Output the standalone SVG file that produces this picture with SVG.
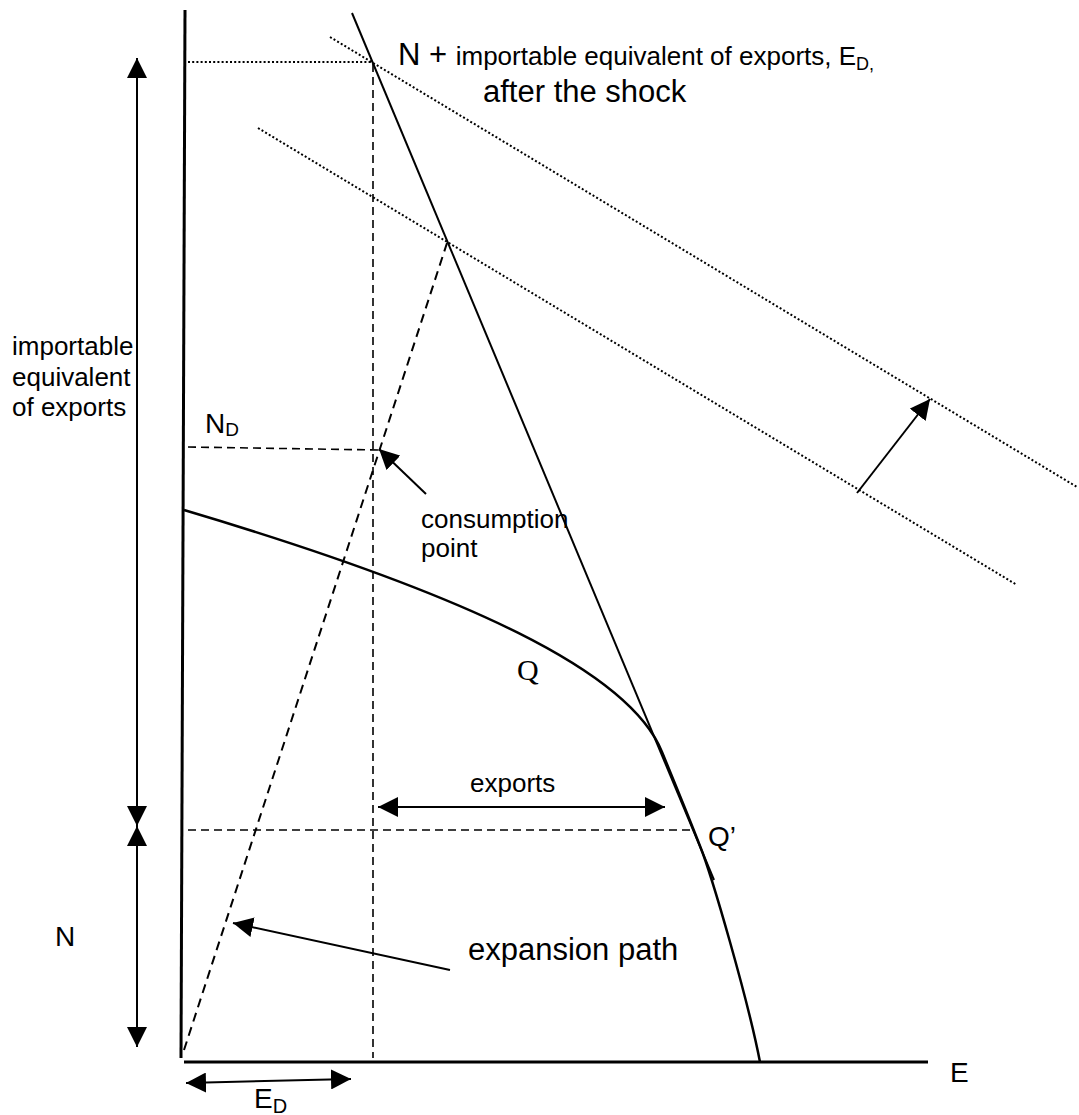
<svg xmlns="http://www.w3.org/2000/svg" width="1079" height="1115" viewBox="0 0 1079 1115">
<style>
  text { font-family: "Liberation Sans", Arial, sans-serif; fill: #000; }
  .ax { stroke: #000; stroke-width: 3; fill: none; }
  .solid { stroke: #000; stroke-width: 2; fill: none; }
  .curve { stroke: #000; stroke-width: 2.5; fill: none; }
  .dash { stroke: #000; stroke-width: 1.6; fill: none; stroke-dasharray: 8 5; }
  .dash2 { stroke: #000; stroke-width: 2; fill: none; stroke-dasharray: 9 6; }
  .dot { stroke: #000; stroke-width: 2; fill: none; stroke-dasharray: 2 2.2; }
  .arr { stroke: #000; stroke-width: 2; fill: none; }
</style>
<defs>
  <marker id="ah" viewBox="0 0 20 20" refX="20" refY="10" markerWidth="20" markerHeight="20" markerUnits="userSpaceOnUse" orient="auto-start-reverse">
    <path d="M0,0 L20,10 L0,20 z" fill="#000"/>
  </marker>
</defs>
<rect width="1079" height="1115" fill="#fff"/>

<g id="axes">
  <line class="ax" x1="185" y1="10" x2="181" y2="1058"/>
  <line class="ax" x1="184" y1="1062" x2="928" y2="1062"/>
</g>

<g id="guides">
  <line class="dot" x1="188" y1="62" x2="373" y2="62"/>
  <line class="dot" x1="330" y1="37" x2="1077" y2="487"/>
  <line class="dot" x1="258" y1="128" x2="1017" y2="585"/>
  <line class="dash" x1="373" y1="64" x2="373" y2="1058"/>
  <line class="dash" x1="188" y1="447" x2="378" y2="450"/>
  <line class="dash" x1="188" y1="830" x2="693" y2="830"/>
  <line class="dash2" x1="184" y1="1050" x2="447" y2="243"/>
</g>

<g id="budget-line">
  <line class="solid" x1="352" y1="13" x2="714" y2="880"/>
</g>

<g id="frontier">
  <path class="curve" d="M184,510 C470,595 630,672 662,752 C676,786 690,820 700,846 C712,876 748,1000 760,1062"/>
</g>

<g id="connectors">
  <line class="arr" x1="137" y1="58" x2="137" y2="826" marker-start="url(#ah)" marker-end="url(#ah)"/>
  <line class="arr" x1="137" y1="826" x2="137" y2="1047" marker-start="url(#ah)" marker-end="url(#ah)"/>
  <line class="arr" x1="378" y1="807" x2="665" y2="807" marker-start="url(#ah)" marker-end="url(#ah)"/>
  <line class="arr" x1="186" y1="1083" x2="351" y2="1079" marker-start="url(#ah)" marker-end="url(#ah)"/>
  <line class="arr" x1="426" y1="494" x2="379" y2="449" marker-end="url(#ah)"/>
  <line class="arr" x1="450" y1="970" x2="233" y2="923" marker-end="url(#ah)"/>
  <line class="arr" x1="857" y1="493" x2="930" y2="399" marker-end="url(#ah)"/>
</g>

<g id="labels">
  <text x="398" y="65" font-size="31">N + <tspan font-size="26">importable equivalent of exports, E</tspan><tspan font-size="18" dy="5">D,</tspan></text>
  <text x="483" y="102" font-size="31">after the shock</text>
  <text font-size="26"><tspan x="12" y="355">importable</tspan><tspan x="12" y="386">equivalent</tspan><tspan x="12" y="416">of exports</tspan></text>
  <text x="205" y="433" font-size="28">N<tspan font-size="19" dy="3">D</tspan></text>
  <text font-size="26"><tspan x="421" y="528">consumption</tspan><tspan x="421" y="557">point</tspan></text>
  <text x="517" y="680" font-size="30" style="font-family:'Liberation Serif','Times New Roman',serif">Q</text>
  <text x="470" y="792" font-size="26">exports</text>
  <text x="708" y="846" font-size="28">Q’</text>
  <text x="55" y="946" font-size="28">N</text>
  <text x="468" y="960" font-size="31">expansion path</text>
  <text x="950" y="1082" font-size="28">E</text>
  <text x="254" y="1108" font-size="28">E<tspan font-size="20" dy="5">D</tspan></text>
</g>
</svg>
